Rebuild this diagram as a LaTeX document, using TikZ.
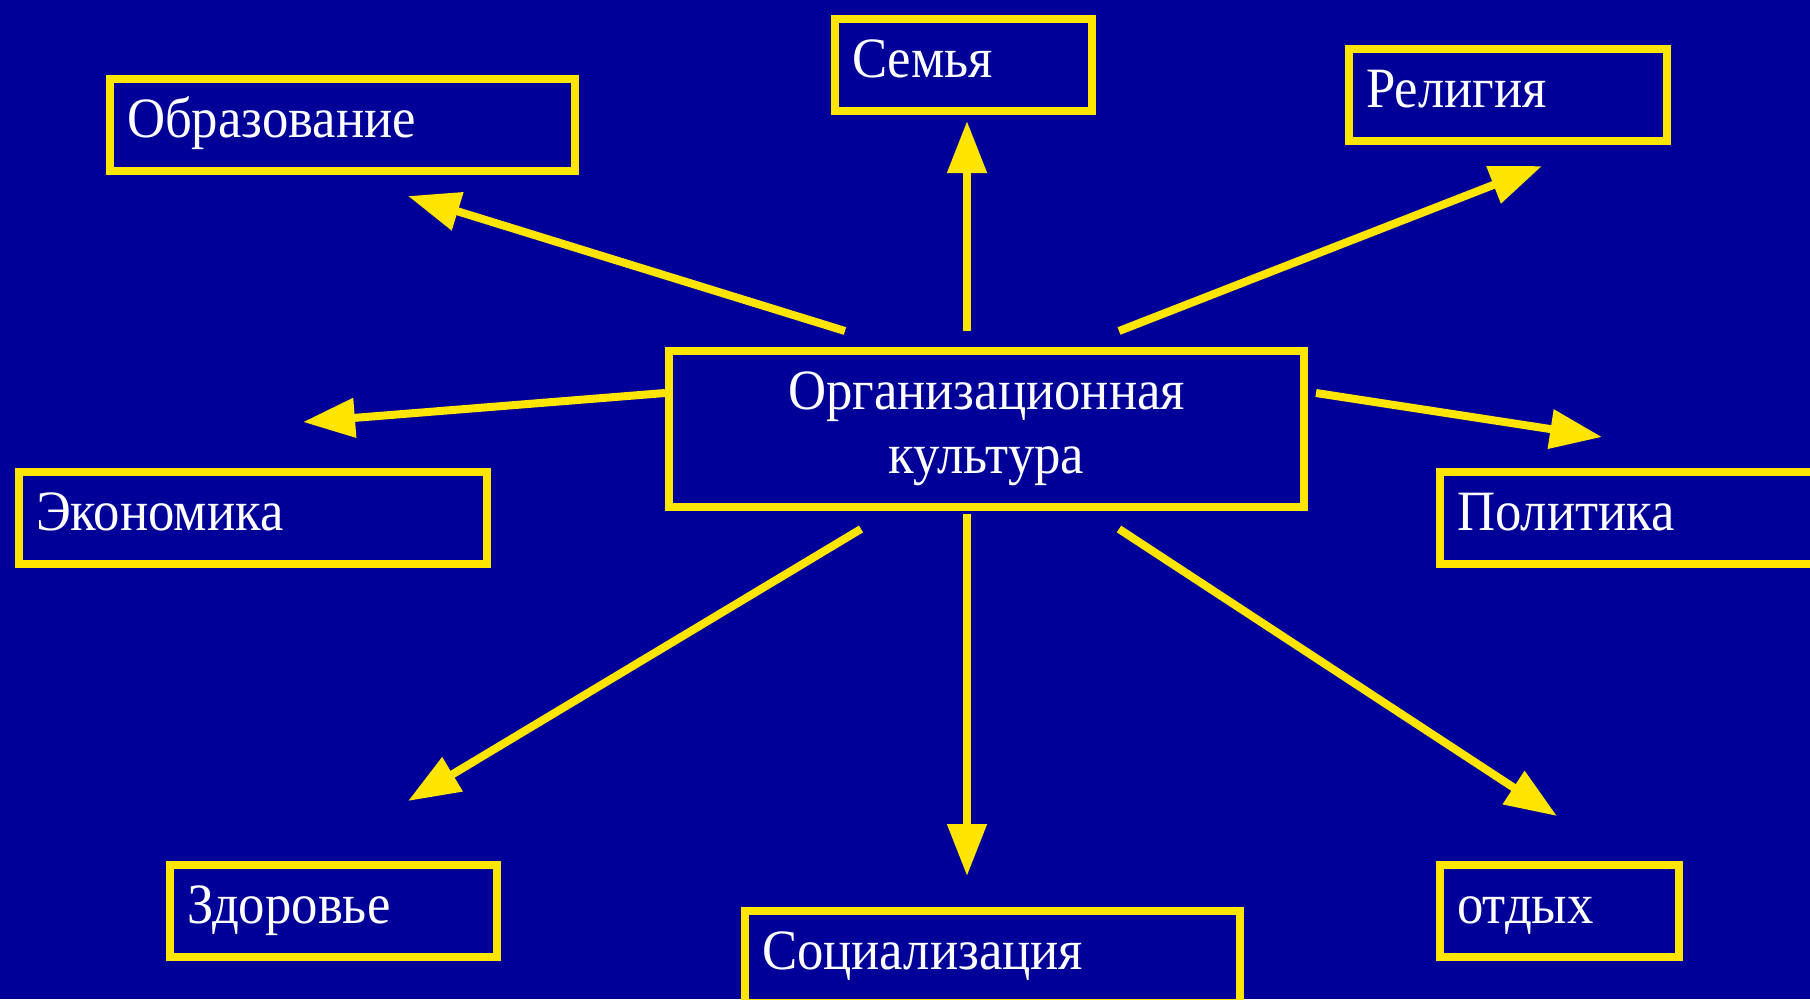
\documentclass[tikz,border=0pt]{standalone}
\usepackage{fontspec}
\setmainfont{Liberation Serif}
\newfontfamily\chartfamily[FakeStretch=0.925]{Liberation Serif}
\usetikzlibrary{arrows.meta}
\definecolor{darkblue}{rgb}{0, 0, 0.6}
\definecolor{signyellow}{rgb}{1, 0.9, 0}
\newcommand{\chartfont}{\chartfamily\fontsize{57}{64}\selectfont}

\begin{document}
\begin{tikzpicture}[x=1pt, y=-1pt]
    \tikzstyle{box_style} = [draw=signyellow, line width=8pt, fill=darkblue, text=white, font=\chartfont, inner xsep=17pt, inner ysep=0pt, minimum height=92pt, anchor=north west, align=left, execute at begin node=\strut, execute at end node=\strut]
    \tikzstyle{arrow_style} = [-{Triangle[length=52pt, width=38pt]}, line width=8pt, signyellow]

    \useasboundingbox (0,0) rectangle (1810,999);
    \fill[darkblue] (0,0) rectangle (1810,999);

    % centre
    \node[box_style, align=center, text width=601pt, minimum height=156pt] (kultura) at (665,347) {Организационная\\культура};

    % boxes round it
    \node[box_style, text width=431pt] (obrazovanie) at (106,75) {Образование};
    \node[box_style, text width=223pt] (semya) at (831,15) {Семья};
    \node[box_style, text width=284pt] (religiya) at (1345,45) {Религия};
    \node[box_style, text width=434pt] (ekonomika) at (15,468) {Экономика};
    \node[box_style, text width=360pt] (politika) at (1436,468) {Политика};
    \node[box_style, text width=293pt] (zdorovye) at (166,861) {Здоровье};
    \node[box_style, text width=461pt] (socializaciya) at (741,907) {Социализация};
    \node[box_style, text width=205pt] (otdykh) at (1436,861) {отдых};

    % arrow ends
    \coordinate (obr_from) at (845,331);
    \coordinate (obr_to) at (408,196);
    \coordinate (sem_from) at (967,331);
    \coordinate (sem_to) at (967,121);
    \coordinate (rel_from) at (1119,331);
    \coordinate (rel_to) at (1542,166);
    \coordinate (eko_from) at (665,393);
    \coordinate (eko_to) at (303,422);
    \coordinate (pol_from) at (1316,393);
    \coordinate (pol_to) at (1602,437);
    \coordinate (zdo_from) at (861,529);
    \coordinate (zdo_to) at (408,801);
    \coordinate (soc_from) at (967,514);
    \coordinate (soc_to) at (967,876);
    \coordinate (otd_from) at (1119,529);
    \coordinate (otd_to) at (1557,816);

    \draw[arrow_style] (obr_from) -- (obr_to);
    \draw[arrow_style] (sem_from) -- (sem_to);
    \draw[arrow_style] (rel_from) -- (rel_to);
    \draw[arrow_style] (eko_from) -- (eko_to);
    \draw[arrow_style] (pol_from) -- (pol_to);
    \draw[arrow_style] (zdo_from) -- (zdo_to);
    \draw[arrow_style] (soc_from) -- (soc_to);
    \draw[arrow_style] (otd_from) -- (otd_to);

\end{tikzpicture}
\end{document}
